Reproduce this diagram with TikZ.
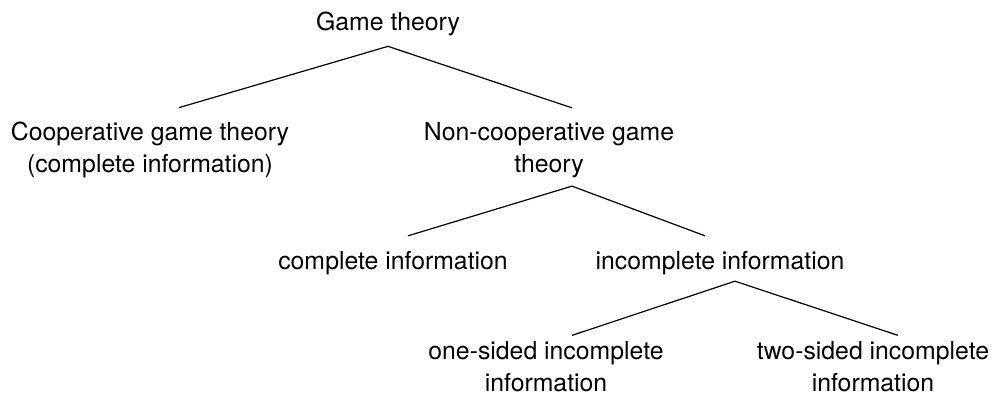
\documentclass[tikz,border=0pt]{standalone}
\usepackage{fontspec}
\setmainfont{TeX Gyre Heros}
\tikzset{
  TermStyle/.style = { inner sep = 0pt, align = center,
                       font = \fontsize{12.4}{16}\selectfont },
  BranchStyle/.style = { line width = 0.6pt, line join = miter } }

\begin{document}
\begin{tikzpicture}[x=0.5pt, y=-0.5pt]
  \useasboundingbox (0,0) rectangle (993,395);
  \node[TermStyle](G) at (388,24) {Game theory};
  \node[TermStyle](C) at (150,150) {Cooperative game theory\\(complete information)};
  \node[TermStyle](N) at (549,150) {Non-cooperative game\\theory};
  \node[TermStyle](CI) at (393,263) {complete information};
  \node[TermStyle](II) at (720,263) {incomplete information};
  \node[TermStyle](OS) at (546,367) {one-sided incomplete\\information};
  \node[TermStyle](TS) at (873,367) {two-sided incomplete\\information};
  % game theory splits in two
  \draw[BranchStyle] ([xshift=14.5pt,yshift=7pt]C.north) -- ([yshift=-5pt]G.south)
    -- ([xshift=11.5pt,yshift=7pt]N.north);
  \draw[BranchStyle] ([xshift=7.5pt,yshift=7.5pt]CI.north) -- ([xshift=11.5pt,yshift=-4pt]N.south)
    -- ([xshift=-7.5pt,yshift=7.5pt]II.north);
  \draw[BranchStyle] ([xshift=13pt,yshift=3pt]OS.north) -- ([xshift=7.5pt,yshift=-3pt]II.south)
    -- ([xshift=12.5pt,yshift=3pt]TS.north);
\end{tikzpicture}
\end{document}
